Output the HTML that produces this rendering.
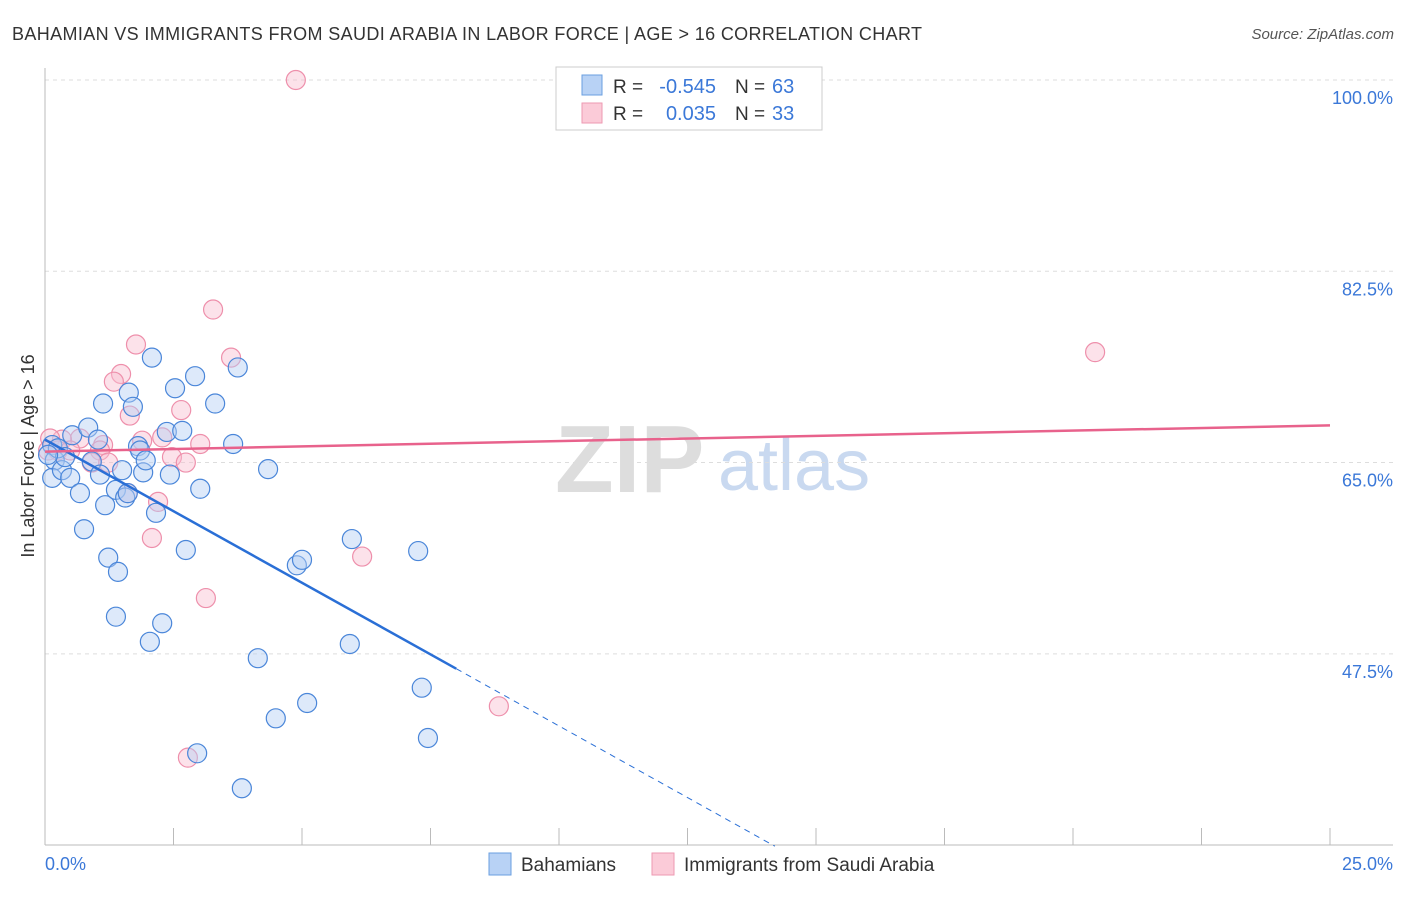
<!DOCTYPE html>
<html><head><meta charset="utf-8"><style>
body{margin:0;background:#fff;font-family:"Liberation Sans",sans-serif}
svg text{font-family:"Liberation Sans",sans-serif}
</style></head><body>
<svg id="chart" width="1406" height="892">
<text x="12" y="40" font-size="18" fill="#333" textLength="910">BAHAMIAN VS IMMIGRANTS FROM SAUDI ARABIA IN LABOR FORCE | AGE &gt; 16 CORRELATION CHART</text>
<text x="1394" y="39" font-size="15" fill="#555" text-anchor="end" font-style="italic">Source: ZipAtlas.com</text>
<g>
<text x="555" y="492" font-size="96" fill="#ddd" font-family="Liberation Serif" font-weight="bold">ZIP</text>
<text x="718" y="490" font-size="72" fill="#c9d9f0">atlas</text>
</g>
<g id="grid"></g>
<g id="axes"></g>
<g id="marks"></g>
<text transform="translate(34,456) rotate(-90)" font-size="18" fill="#333" text-anchor="middle">In Labor Force | Age &gt; 16</text>
<g>
<rect x="556" y="67" width="266" height="63" fill="#fff" stroke="#ccc"/>
<rect x="582" y="75" width="20" height="20" fill="#b8d2f5" stroke="#6a9fe0"/>
<rect x="582" y="103" width="20" height="20" fill="#fbcbd8" stroke="#ee9ab2"/>
<text x="613" y="93" font-size="19" fill="#333">R =</text>
<text x="716" y="93" font-size="20" fill="#3b78d8" text-anchor="end">-0.545</text>
<text x="735" y="93" font-size="19" fill="#333">N =</text>
<text x="772" y="93" font-size="20" fill="#3b78d8">63</text>
<text x="613" y="120" font-size="19" fill="#333">R =</text>
<text x="716" y="120" font-size="20" fill="#3b78d8" text-anchor="end">0.035</text>
<text x="735" y="120" font-size="19" fill="#333">N =</text>
<text x="772" y="120" font-size="20" fill="#3b78d8">33</text>
</g>
<g>
<rect x="489" y="853" width="22" height="22" fill="#b8d2f5" stroke="#6a9fe0"/>
<text x="521" y="871" font-size="19" fill="#333">Bahamians</text>
<rect x="652" y="853" width="22" height="22" fill="#fbcbd8" stroke="#ee9ab2"/>
<text x="684" y="871" font-size="19" fill="#333">Immigrants from Saudi Arabia</text>
</g>
</svg>
<script>
const yTicks=[100,82.5,65,47.5];
const yTickLabels=["100.0%","82.5%","65.0%","47.5%"];
const xTickLabels=["0.0%","25.0%"];
const blueX=[0.14,0.19,0.25,0.14,0.33,0.39,0.49,0.53,0.68,0.76,0.84,0.91,1.03,1.07,1.13,1.17,1.23,1.38,1.42,1.38,1.50,1.56,1.61,1.63,1.71,1.81,1.85,1.91,1.96,2.08,2.16,2.28,2.04,2.37,2.43,2.53,2.67,2.74,2.92,3.02,3.31,3.66,3.75,4.14,4.34,4.49,4.90,5.00,5.10,5.93,5.97,7.26,7.33,7.45,2.96,3.83,0.06];
const blueY=[66.6,65.2,66.3,63.6,64.3,65.5,63.6,67.5,62.2,58.9,68.2,65.1,67.1,63.9,70.4,61.1,56.3,62.5,55.0,50.9,64.3,61.8,62.2,71.4,70.1,66.5,66.1,64.1,65.2,74.6,60.4,50.3,48.6,67.8,63.9,71.8,67.9,57.0,72.9,62.6,70.4,66.7,73.7,47.1,64.4,41.6,55.6,56.1,43.0,48.4,58.0,56.9,44.4,39.8,38.4,35.2,65.7];
const pinkX=[4.88,3.27,1.77,3.62,1.48,1.34,1.65,2.65,1.89,2.28,3.02,2.47,2.74,1.13,1.07,0.91,1.23,0.68,0.33,0.10,0.25,1.61,2.20,2.08,3.13,2.78,6.17,8.83,20.43,0.06,0.49];
const pinkY=[100,79.0,75.8,74.6,73.1,72.4,69.3,69.8,67.0,67.3,66.7,65.5,65.0,66.6,66.1,65.0,65.0,67.2,67.1,67.2,66.1,62.2,61.4,58.1,52.6,38.0,56.4,42.7,75.1,66.1,66.1];
const blueTrend=[67.1,-2.62,8.0,14.2];
const pinkTrend=[66.0,0.096];
const NS="http://www.w3.org/2000/svg";
const X0=45,X1=1330,XMAX=25,Y100=80,PXPER=10.93;
const sx=v=>X0+(X1-X0)*v/XMAX;
const sy=v=>Y100+(100-v)*PXPER;
function mk(p,t,a){const e=document.createElementNS(NS,t);for(const k in a)e.setAttribute(k,a[k]);p.appendChild(e);return e;}
const grid=document.getElementById('grid'),axes=document.getElementById('axes'),marks=document.getElementById('marks');
yTicks.forEach((v,i)=>{
 const l=mk(grid,'line',{x1:45,x2:1393,y1:sy(v),y2:sy(v),stroke:'#ddd','stroke-dasharray':'4,4'});
 
 
 const t=mk(axes,'text',{x:1393,y:sy(v)+24,'font-size':18,fill:'#3b78d8','text-anchor':'end'});
 t.textContent=yTickLabels[i];
 
 
});
const ax=mk(axes,'line',{x1:45,x2:45,y1:68,y2:845,stroke:'#bbb'});


const bx=mk(axes,'line',{x1:45,x2:1393,y1:845,y2:845,stroke:'#bbb'});


for(let i=1;i<=10;i++){const v=i*2.5;const t=mk(axes,'line',{x1:sx(v),x2:sx(v),y1:828,y2:845,stroke:'#bbb'});
 
 }
[[0,'start',45],[25,'end',1393]].forEach((d,i)=>{const t=mk(axes,'text',{x:d[2],y:870,'font-size':18,fill:'#3b78d8','text-anchor':d[1]});t.textContent=xTickLabels[i];
 
 });
function dots(xs,ys,fill,stroke,name){xs.forEach((x,i)=>{const c=mk(marks,'circle',{cx:sx(x),cy:sy(ys[i]),r:9.5,fill:fill,'fill-opacity':0.45,stroke:stroke,'stroke-width':1.2});
 
 });}
dots(pinkX,pinkY,'#f9bfd0','#ee8fab','saudi-point');
dots(blueX,blueY,'#b3cff3','#4a86d9','bahamian-point');
const bf=x=>blueTrend[0]+blueTrend[1]*x;
const b1=mk(marks,'line',{x1:sx(0),y1:sy(bf(0)),x2:sx(blueTrend[2]),y2:sy(bf(blueTrend[2])),stroke:'#2a6fd6','stroke-width':2.5});


const b2=mk(marks,'line',{x1:sx(blueTrend[2]),y1:sy(bf(blueTrend[2])),x2:sx(blueTrend[3]),y2:sy(bf(blueTrend[3])),stroke:'#2a6fd6','stroke-width':1,'stroke-dasharray':'6,5'});


const pf=x=>pinkTrend[0]+pinkTrend[1]*x;
const p1=mk(marks,'line',{x1:sx(0),y1:sy(pf(0)),x2:sx(25),y2:sy(pf(25)),stroke:'#e8628c','stroke-width':2.5});


</script>
</body></html>
